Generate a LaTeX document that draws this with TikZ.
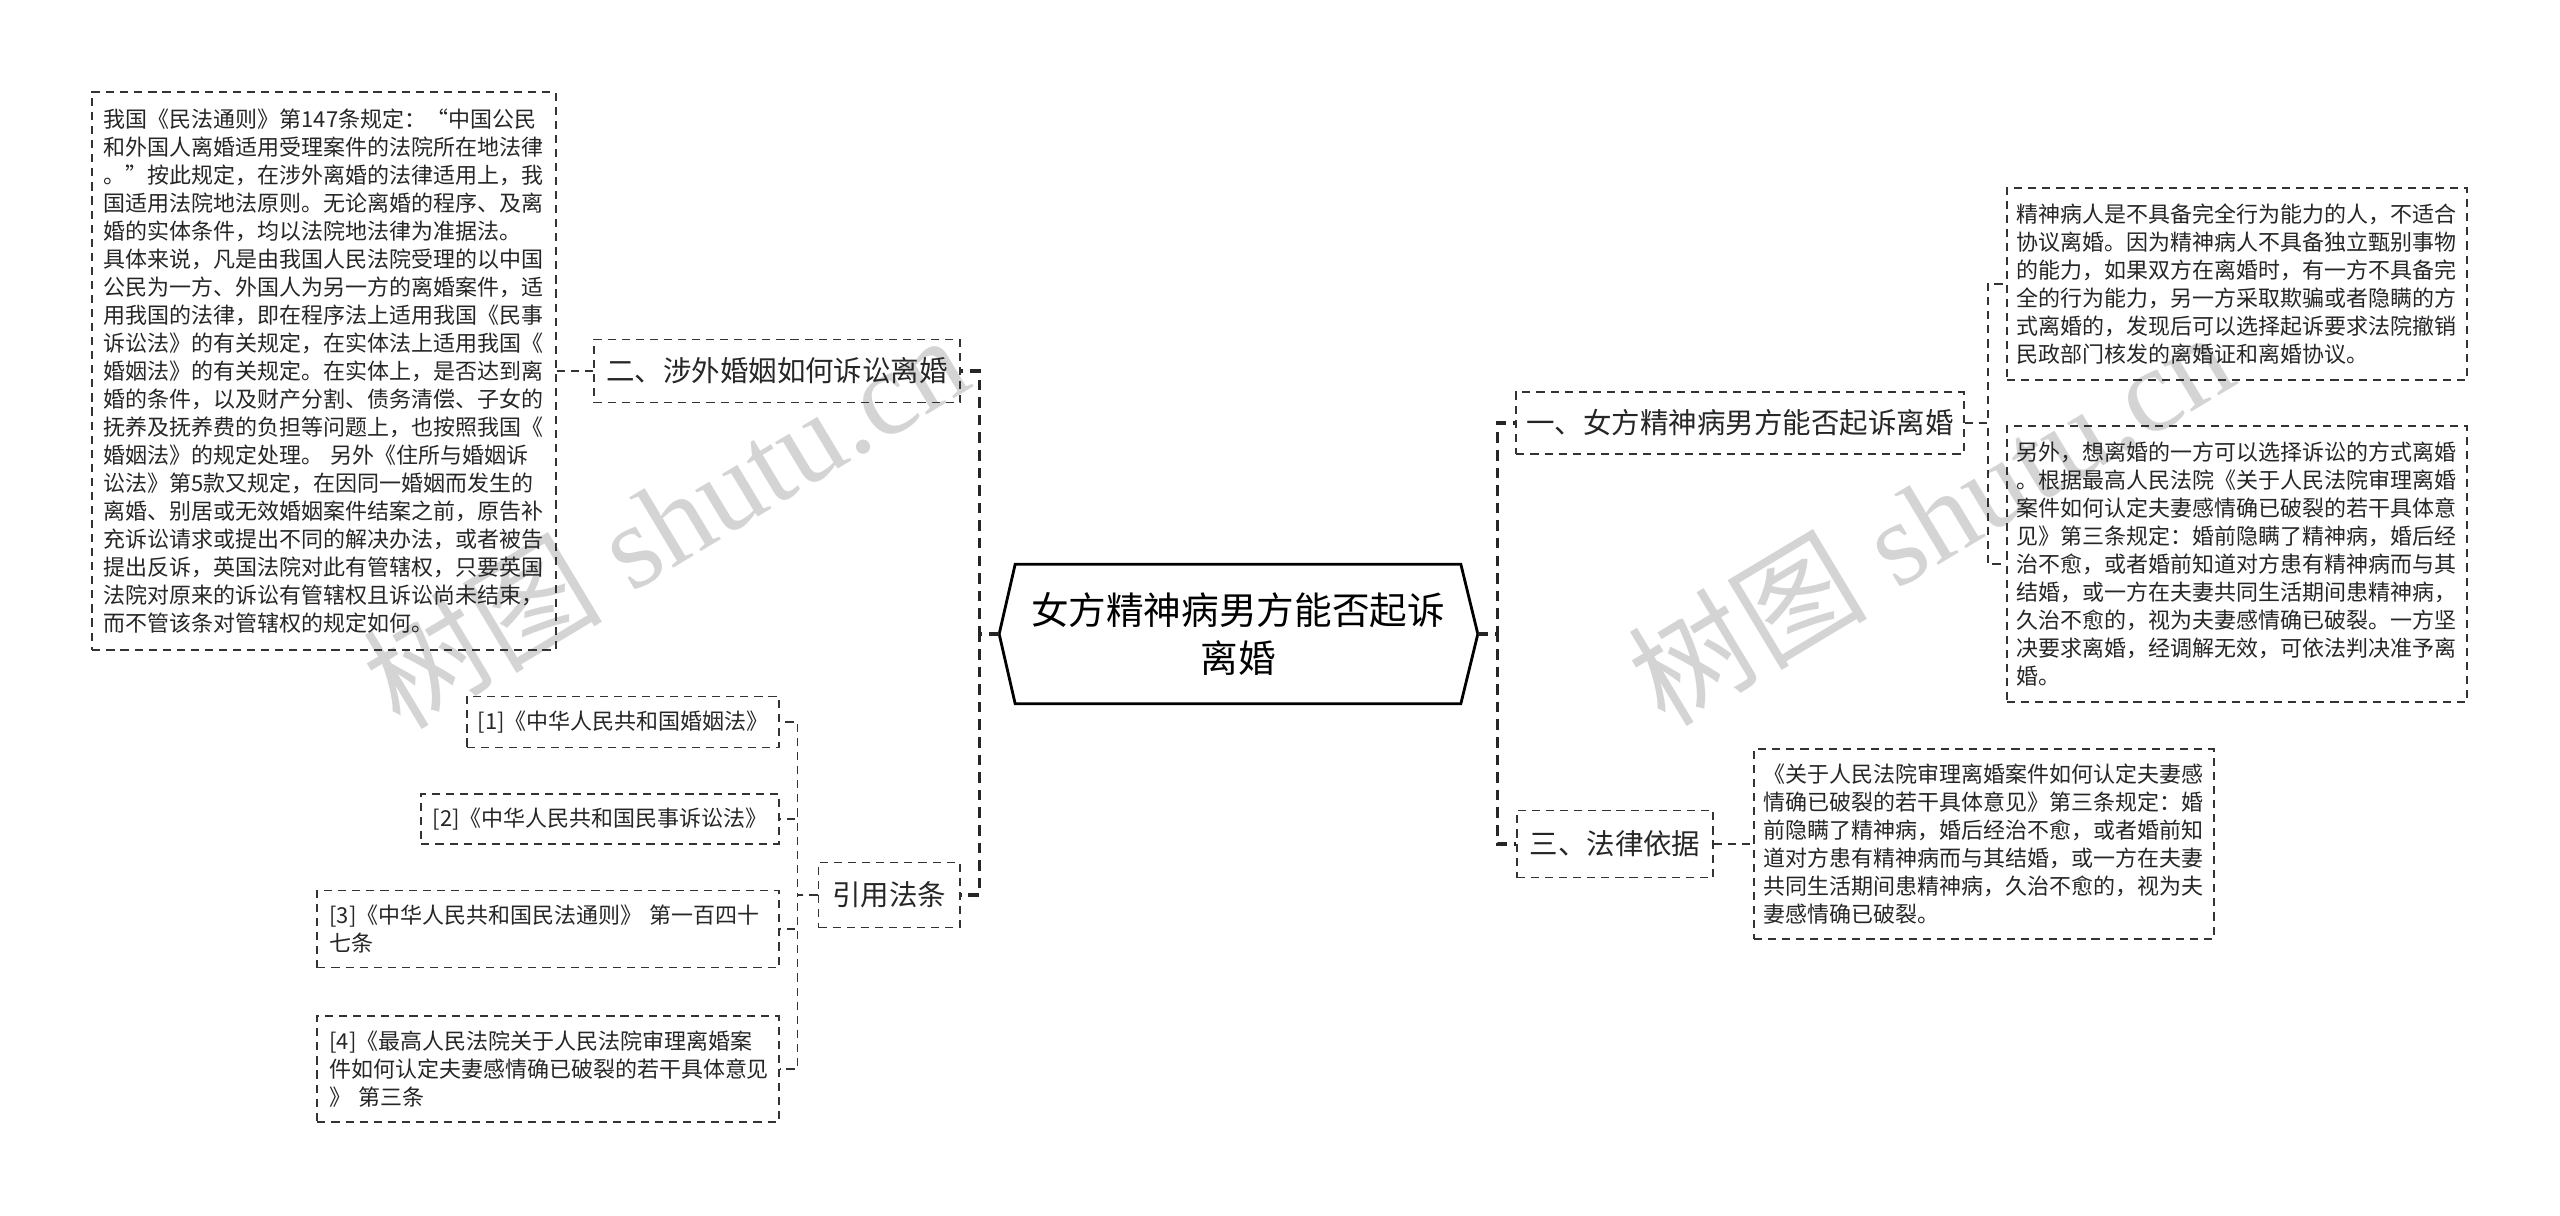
\documentclass[tikz,border=0pt]{standalone}
\usepackage{fontspec}
\usepackage{tikz}
\usetikzlibrary{calc}
\newfontfamily\cjkfont{Noto Sans CJK SC}
\newfontfamily\stampfont{Liberation Serif}

\begin{document}
\begin{tikzpicture}[x=0.01cm, y=-0.01cm,
    box/.style={draw=black!80, line width=0.55pt, dash pattern=on 2.3pt off 1.7pt, inner sep=0pt, text=black!85},
    leaf/.style={box, align=left, font=\cjkfont\fontsize{6.25}{7.97}\selectfont},
    branch/.style={box, font=\cjkfont\fontsize{8.1}{10}\selectfont},
    link/.style={black!80, line width=0.55pt, dash pattern=on 2.3pt off 1.7pt},
    trunk/.style={black!85, line width=0.9pt, dash pattern=on 3pt off 2pt},
    stamp/.style={text=black!17, font=\stampfont\fontsize{34}{34}\selectfont}]
    \useasboundingbox (0,0) rectangle (2560,1216);

    % Watermarks
    \node[stamp, rotate=31] (wm1) at (665,520) {{\cjkfont 树图} shutu.cn};
    \node[stamp, rotate=31] (wm2) at (1930,517) {{\cjkfont 树图} shutu.cn};

    % Root
    \node[inner sep=0pt, minimum width=4.44cm, minimum height=1.38cm, align=center,
          font=\cjkfont\fontsize{10.7}{13.9}\selectfont] (root) at (1238,634)
          {女方精神病男方能否起诉\\离婚};
    \coordinate (rootL) at ($(root.west)+(-16,0)$);
    \coordinate (rootR) at ($(root.east)+(17,0)$);
    \draw[line width=0.8pt] (root.north west) -- (root.north east) -- (rootR)
        -- (root.south east) -- (root.south west) -- (rootL) -- cycle;

    % Branches
    \node[branch, minimum width=4.47cm, minimum height=0.62cm] (b1) at (1740,423) {一、女方精神病男方能否起诉离婚};
    \node[branch, minimum width=3.66cm, minimum height=0.63cm] (b2) at (777,371) {二、涉外婚姻如何诉讼离婚};
    \node[branch, minimum width=1.96cm, minimum height=0.67cm] (b3) at (1615,844) {三、法律依据};
    \node[branch, minimum width=1.41cm, minimum height=0.65cm] (b4) at (889,895) {引用法条};

    % Right leaves
    \node[leaf, minimum width=4.6cm, minimum height=1.92cm, text width=4.4cm] (r1) at (2237,284)
        {精神病人是不具备完全行为能力的人，不适合\\
         协议离婚。因为精神病人不具备独立甄别事物\\
         的能力，如果双方在离婚时，有一方不具备完\\
         全的行为能力，另一方采取欺骗或者隐瞒的方\\
         式离婚的，发现后可以选择起诉要求法院撤销\\
         民政部门核发的离婚证和离婚协议。};
    \node[leaf, minimum width=4.6cm, minimum height=2.76cm, text width=4.4cm] (r2) at (2237,564)
        {另外，想离婚的一方可以选择诉讼的方式离婚\\
         。根据最高人民法院《关于人民法院审理离婚\\
         案件如何认定夫妻感情确已破裂的若干具体意\\
         见》第三条规定：婚前隐瞒了精神病，婚后经\\
         治不愈，或者婚前知道对方患有精神病而与其\\
         结婚，或一方在夫妻共同生活期间患精神病，\\
         久治不愈的，视为夫妻感情确已破裂。一方坚\\
         决要求离婚，经调解无效，可依法判决准予离\\
         婚。};
    \node[leaf, minimum width=4.6cm, minimum height=1.89cm, text width=4.4cm] (r3) at (1984,844)
        {《关于人民法院审理离婚案件如何认定夫妻感\\
         情确已破裂的若干具体意见》第三条规定：婚\\
         前隐瞒了精神病，婚后经治不愈，或者婚前知\\
         道对方患有精神病而与其结婚，或一方在夫妻\\
         共同生活期间患精神病，久治不愈的，视为夫\\
         妻感情确已破裂。};

    % Left leaves
    \node[leaf, minimum width=4.63cm, minimum height=5.58cm, text width=4.4cm] (l1) at (324,371)
        {我国《民法通则》第147条规定：“中国公民\\
         和外国人离婚适用受理案件的法院所在地法律\\
         。”按此规定，在涉外离婚的法律适用上，我\\
         国适用法院地法原则。无论离婚的程序、及离\\
         婚的实体条件，均以法院地法律为准据法。\\
         具体来说，凡是由我国人民法院受理的以中国\\
         公民为一方、外国人为另一方的离婚案件，适\\
         用我国的法律，即在程序法上适用我国《民事\\
         诉讼法》的有关规定，在实体法上适用我国《\\
         婚姻法》的有关规定。在实体上，是否达到离\\
         婚的条件，以及财产分割、债务清偿、子女的\\
         抚养及抚养费的负担等问题上，也按照我国《\\
         婚姻法》的规定处理。 另外《住所与婚姻诉\\
         讼法》第5款又规定，在因同一婚姻而发生的\\
         离婚、别居或无效婚姻案件结案之前，原告补\\
         充诉讼请求或提出不同的解决办法，或者被告\\
         提出反诉，英国法院对此有管辖权，只要英国\\
         法院对原来的诉讼有管辖权且诉讼尚未结束，\\
         而不管该条对管辖权的规定如何。};
    \node[leaf, minimum width=3.12cm, minimum height=0.51cm] (f1) at (623,722) {[1]《中华人民共和国婚姻法》};
    \node[leaf, minimum width=3.57cm, minimum height=0.50cm] (f2) at (600,819) {[2]《中华人民共和国民事诉讼法》};
    \node[leaf, minimum width=4.61cm, minimum height=0.77cm, text width=4.37cm] (f3) at (548,929)
        {[3]《中华人民共和国民法通则》 第一百四十\\七条};
    \node[leaf, minimum width=4.61cm, minimum height=1.06cm, text width=4.37cm] (f4) at (548,1069)
        {[4]《最高人民法院关于人民法院审理离婚案\\
         件如何认定夫妻感情确已破裂的若干具体意见\\
         》 第三条};

    % Connectors from the root
    \draw[trunk] (rootL) -- ++(-20,0) |- (b2.east);
    \draw[trunk] (rootL) -- ++(-20,0) |- (b4.east);
    \draw[trunk] (rootR) -- ++(20,0) |- (b1.west);
    \draw[trunk] (rootR) -- ++(20,0) |- (b3.west);

    % Connectors to the leaves
    \draw[link] (b1.east) -- ++(23,0) |- (r1.west);
    \draw[link] (b1.east) -- ++(23,0) |- (r2.west);
    \draw[link] (b3.east) -- (r3.west);
    \draw[link] (b2.west) -- (l1.east);
    \foreach \f in {f1, f2, f3, f4} {
        \draw[link] (b4.west) -- ++(-20,0) |- (\f.east);
    }
\end{tikzpicture}
\end{document}
